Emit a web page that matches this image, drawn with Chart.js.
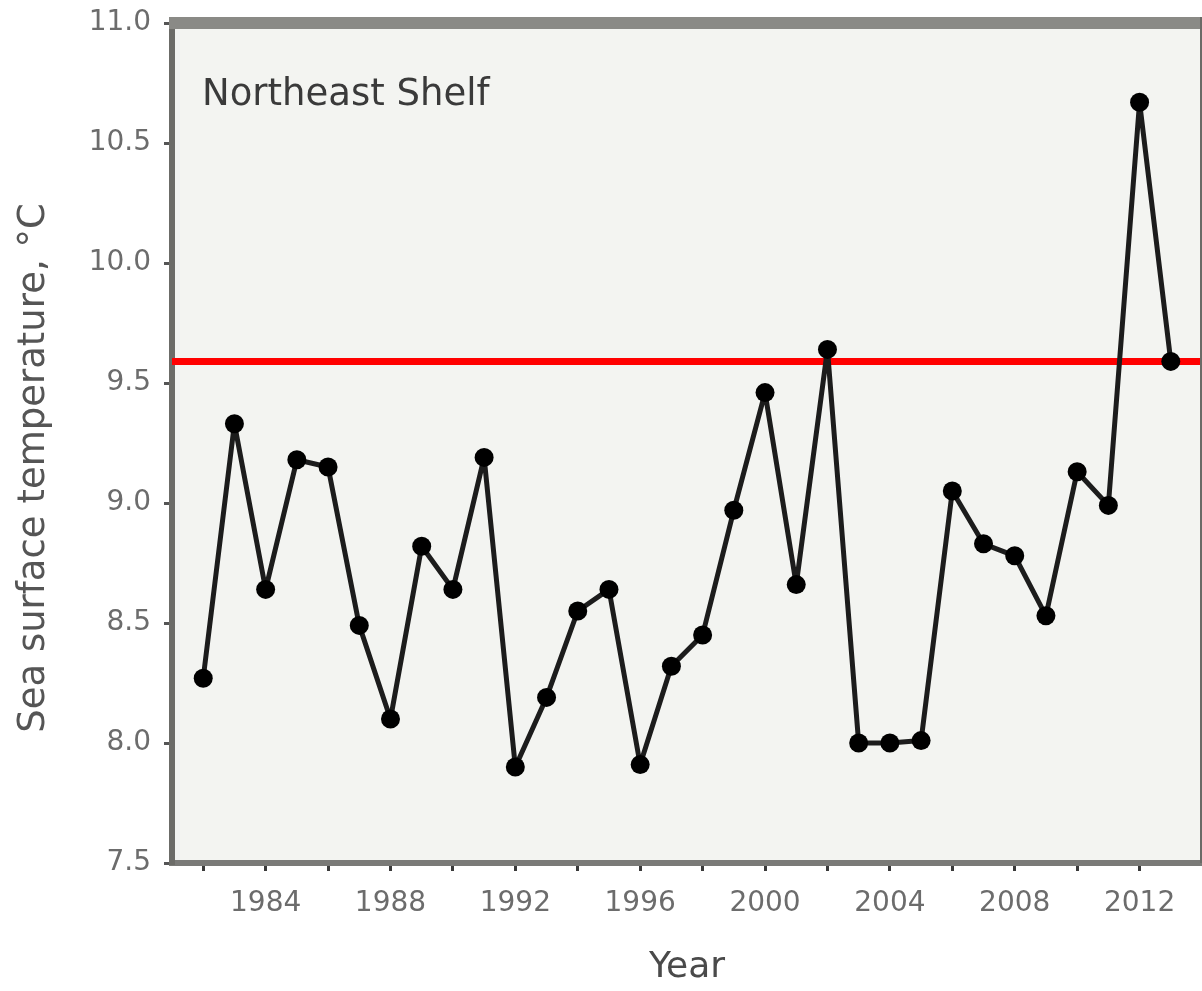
<!DOCTYPE html>
<html>
<head>
<meta charset="utf-8">
<title>Northeast Shelf sea surface temperature</title>
<script src="https://cdn.jsdelivr.net/npm/chart.js@4.4.1/dist/chart.umd.min.js"></script>
<style>
  html, body { margin: 0; padding: 0; background: #ffffff; }
  #wrap { width: 1202px; height: 991px; }
</style>
</head>
<body>
<div id="wrap"><canvas id="chart" width="1202" height="991"></canvas></div>
<script>
// Annual mean sea surface temperature, Northeast Shelf (°C)
const years = [1982, 1983, 1984, 1985, 1986, 1987, 1988, 1989, 1990, 1991,
               1992, 1993, 1994, 1995, 1996, 1997, 1998, 1999, 2000, 2001,
               2002, 2003, 2004, 2005, 2006, 2007, 2008, 2009, 2010, 2011,
               2012, 2013];
const sst = [8.27, 9.33, 8.64, 9.18, 9.15, 8.49, 8.10, 8.82, 8.64, 9.19,
             7.90, 8.19, 8.55, 8.64, 7.91, 8.32, 8.45, 8.97, 9.46, 8.66,
             9.64, 8.00, 8.00, 8.01, 9.05, 8.83, 8.78, 8.53, 9.13, 8.99,
             10.67, 9.59];
// Long-term reference level drawn as a horizontal line
const referenceSst = 9.59;

// Axis ranges and ticks
const xRange = [1981, 2014];
const xTickYears = [1982, 1984, 1986, 1988, 1990, 1992, 1994, 1996,
                    1998, 2000, 2002, 2004, 2006, 2008, 2010, 2012];
const xLabelYears = [1984, 1988, 1992, 1996, 2000, 2004, 2008, 2012];
const yTicks = [7.5, 8.0, 8.5, 9.0, 9.5, 10.0, 10.5, 11.0];

const regionLabel = 'Northeast Shelf';
const xTitle = 'Year';
const yTitle = 'Sea surface temperature, °C';

const FONT = "'DejaVu Sans', 'Liberation Sans', sans-serif";

// Plot background, heavy top frame, region label and the vertical axis title
const framePlugin = {
  id: 'frame',
  beforeDraw(chart) {
    const { ctx, chartArea: a } = chart;
    ctx.save();
    ctx.fillStyle = '#f3f4f1';
    ctx.fillRect(a.left, a.top, a.right - a.left, a.bottom - a.top);
    ctx.restore();
  },
  afterDraw(chart) {
    const { ctx, chartArea: a } = chart;
    ctx.save();
    ctx.fillStyle = '#8a8a86';
    ctx.fillRect(a.left - 3, a.top - 6, a.right - a.left + 3, 12);
    ctx.fillStyle = '#6a6a66';
    ctx.fillRect(a.right - 2, a.top - 6, 2, a.bottom - a.top + 6);

    ctx.fillStyle = '#3a3a3a';
    ctx.font = '37px ' + FONT;
    ctx.textAlign = 'left';
    ctx.textBaseline = 'middle';
    ctx.fillText(regionLabel, a.left + 30, a.top + 72);

    // y-axis title, set a little below the middle of the axis
    ctx.translate(34, (a.top + a.bottom) / 2 + 25);
    ctx.rotate(-Math.PI / 2);
    ctx.fillStyle = '#555555';
    ctx.font = '37px ' + FONT;
    ctx.textAlign = 'center';
    ctx.fillText(yTitle, 0, 0);
    ctx.restore();
  }
};

new Chart(document.getElementById('chart'), {
  type: 'line',
  data: {
    datasets: [
      {
        label: 'SST',
        data: years.map((y, i) => ({ x: y, y: sst[i] })),
        borderColor: '#1c1c1c',
        borderWidth: 5,
        borderJoinStyle: 'round',
        borderCapStyle: 'round',
        pointRadius: 9.5,
        pointBackgroundColor: '#000000',
        pointBorderColor: '#000000',
        pointBorderWidth: 0,
        tension: 0,
        order: 1
      },
      {
        label: 'Reference',
        data: [{ x: xRange[0], y: referenceSst }, { x: xRange[1], y: referenceSst }],
        borderColor: '#ff0000',
        borderWidth: 7,
        pointRadius: 0,
        tension: 0,
        order: 2
      }
    ]
  },
  options: {
    responsive: false,
    animation: false,
    events: [],
    layout: { autoPadding: false, padding: { top: 23, right: 0, left: 0, bottom: 0 } },
    plugins: {
      legend: { display: false },
      tooltip: { enabled: false }
    },
    scales: {
      x: {
        type: 'linear',
        min: xRange[0],
        max: xRange[1],
        afterBuildTicks(scale) {
          scale.ticks = xTickYears.map(v => ({ value: v }));
        },
        afterFit(scale) {
          scale.height = 128;
          scale.paddingLeft = 0;
          scale.paddingRight = 0;
        },
        border: { display: true, color: '#7a7a77', width: 6 },
        grid: {
          drawOnChartArea: false,
          drawTicks: true,
          tickLength: 8,
          color: '#3a3a3a',
          lineWidth: 3
        },
        ticks: {
          autoSkip: false,
          maxRotation: 0,
          padding: 16,
          color: '#6c6c6c',
          font: { family: FONT, size: 28 },
          callback: v => (xLabelYears.includes(v) ? String(v) : '')
        },
        title: {
          display: true,
          text: xTitle,
          color: '#4a4a4a',
          font: { family: FONT, size: 36 },
          padding: { top: 0, bottom: 2 }
        }
      },
      y: {
        type: 'linear',
        min: yTicks[0],
        max: yTicks[yTicks.length - 1],
        afterBuildTicks(scale) {
          scale.ticks = yTicks.map(v => ({ value: v }));
        },
        afterFit(scale) {
          scale.width = 172;
          scale.paddingTop = 0;
          scale.paddingBottom = 0;
        },
        border: { display: true, color: '#6c6c68', width: 6 },
        grid: {
          drawOnChartArea: false,
          drawTicks: true,
          tickLength: 8,
          color: '#555555',
          lineWidth: 3
        },
        ticks: {
          padding: 13,
          color: '#6c6c6c',
          font: { family: FONT, size: 28 },
          callback: v => v.toFixed(1)
        },
        title: { display: false }
      }
    }
  },
  plugins: [framePlugin]
});
</script>
</body>
</html>
